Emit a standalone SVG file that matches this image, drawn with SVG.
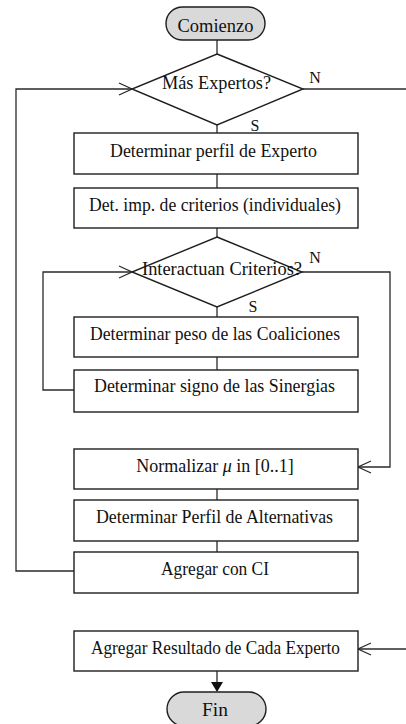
<svg xmlns="http://www.w3.org/2000/svg" width="406" height="724" viewBox="0 0 406 724">
<defs>
<style>
.box{fill:#fff;stroke:#1e1e1e;stroke-width:1.4}
.term{fill:#d9d9d9;stroke:#1e1e1e;stroke-width:1.4}
.ln{fill:none;stroke:#2a2a2a;stroke-width:1.3}
.t{font-family:"Liberation Serif","Times New Roman",serif;font-size:18px;fill:#111;text-anchor:middle}
.lbl{font-family:"Liberation Serif","Times New Roman",serif;font-size:16px;fill:#111;text-anchor:middle}
</style>
</defs>
<rect width="406" height="724" fill="#fff"/>
<g id="connectors">
<line class="ln" x1="217" y1="40" x2="217" y2="54"/>
<polyline class="ln" points="303,89 406,89"/>
<line class="ln" x1="217" y1="125" x2="217" y2="133"/>
<line class="ln" x1="217" y1="174" x2="217" y2="188"/>
<line class="ln" x1="217" y1="228" x2="217" y2="237"/>
<line class="ln" x1="217" y1="307" x2="217" y2="317"/>
<line class="ln" x1="217" y1="357" x2="217" y2="370"/>
<line class="ln" x1="217" y1="489" x2="217" y2="500"/>
<line class="ln" x1="217" y1="541" x2="217" y2="552"/>
<polyline class="ln" points="74,571 16,571 16,89 132,89"/>
<polyline class="ln" points="119,83 132,89 119,95"/>
<polyline class="ln" points="74,390 43,390 43,272 132,272"/>
<polyline class="ln" points="119,266 132,272 119,278"/>
<polyline class="ln" points="302,272 390,272 390,467 358,467"/>
<polyline class="ln" points="371,461 358,467 371,473"/>
<polyline class="ln" points="406,649 358,649"/>
<polyline class="ln" points="371,643 358,649 371,655"/>
<line class="ln" x1="217" y1="671" x2="217" y2="683"/>
<polygon points="211,682 223,682 217,692" fill="#111"/>
<text class="lbl" x="315" y="83">N</text>
<text class="lbl" x="255" y="131">S</text>
<text class="lbl" x="315" y="263">N</text>
<text class="lbl" x="253" y="312">S</text>
</g>
<g id="start">
<rect class="term" x="166" y="7" width="99" height="33" rx="16.5"/>
<text class="t" x="215.5" y="32" textLength="76" lengthAdjust="spacingAndGlyphs">Comienzo</text>
</g>
<g id="dec1">
<polygon class="box" points="217,54 303,89 217,125 132,89"/>
<text class="t" x="216.5" y="89" textLength="109" lengthAdjust="spacingAndGlyphs">Más Expertos?</text>
</g>
<g id="b1">
<rect class="box" x="74" y="133" width="284" height="41"/>
<text class="t" x="213.5" y="157" textLength="207" lengthAdjust="spacingAndGlyphs">Determinar perfil de Experto</text>
</g>
<g id="b2">
<rect class="box" x="74" y="188" width="284" height="40"/>
<text class="t" x="215" y="211" textLength="252" lengthAdjust="spacingAndGlyphs">Det. imp. de criterios (individuales)</text>
</g>
<g id="dec2">
<polygon class="box" points="217,237 302,272 217,307 132,272"/>
<text class="t" x="222" y="275" textLength="160" lengthAdjust="spacingAndGlyphs">Interactuan Criterios?</text>
</g>
<g id="b3">
<rect class="box" x="74" y="317" width="284" height="40"/>
<text class="t" x="215" y="340" textLength="250" lengthAdjust="spacingAndGlyphs">Determinar peso de las Coaliciones</text>
</g>
<g id="b4">
<rect class="box" x="74" y="370" width="284" height="42"/>
<text class="t" x="214.5" y="392" textLength="241" lengthAdjust="spacingAndGlyphs">Determinar signo de las Sinergias</text>
</g>
<g id="b5">
<rect class="box" x="74" y="449" width="284" height="40"/>
<text class="t" x="215" y="472">Normalizar <tspan font-style="italic">μ</tspan> in [0..1]</text>
</g>
<g id="b6">
<rect class="box" x="74" y="500" width="284" height="41"/>
<text class="t" x="214.5" y="523" textLength="237" lengthAdjust="spacingAndGlyphs">Determinar Perfil de Alternativas</text>
</g>
<g id="b7">
<rect class="box" x="74" y="552" width="284" height="41"/>
<text class="t" x="215" y="575" textLength="108" lengthAdjust="spacingAndGlyphs">Agregar con CI</text>
</g>
<g id="b8">
<rect class="box" x="74" y="631" width="284" height="40"/>
<text class="t" x="215.5" y="654" textLength="249" lengthAdjust="spacingAndGlyphs">Agregar Resultado de Cada Experto</text>
</g>
<g id="end">
<rect class="term" x="167" y="692" width="99" height="34" rx="17"/>
<text class="t" x="215" y="716" textLength="26" lengthAdjust="spacingAndGlyphs">Fin</text>
</g>
</svg>
